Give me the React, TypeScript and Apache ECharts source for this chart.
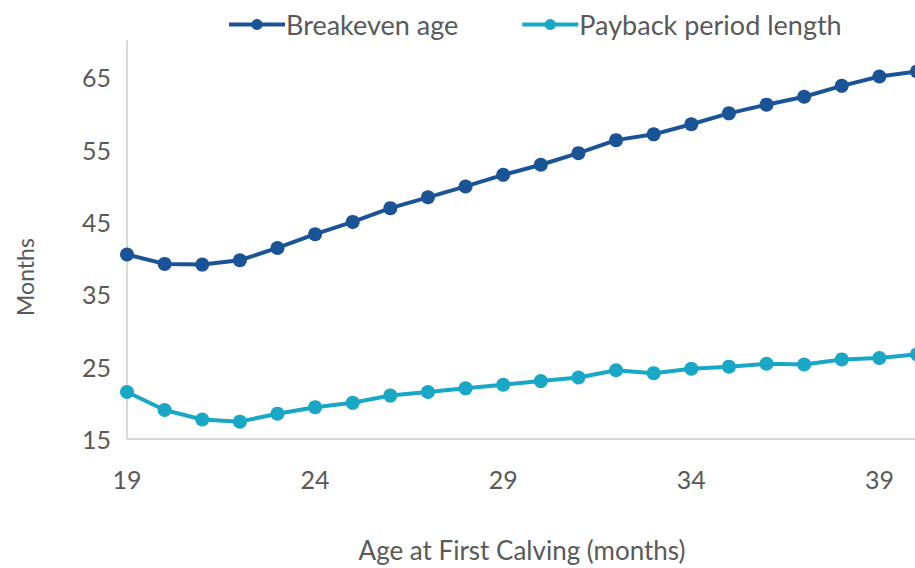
import React, { useEffect, useRef } from "react";
import * as echarts from "echarts";

const ages = ["19","20","21","22","23","24","25","26","27","28","29","30","31","32","33","34","35","36","37","38","39","40"];
const breakevenAge = [40.5, 39.2, 39.1, 39.7, 41.4, 43.3, 45.0, 46.9, 48.4, 49.9, 51.5, 52.9, 54.5, 56.3, 57.1, 58.5, 60.0, 61.2, 62.3, 63.8, 65.1, 65.8];
const paybackLength = [21.5, 19.0, 17.7, 17.4, 18.5, 19.4, 20.0, 21.0, 21.5, 22.0, 22.5, 23.0, 23.5, 24.5, 24.1, 24.7, 25.0, 25.4, 25.3, 26.0, 26.2, 26.7];
const seriesNames = ["Breakeven age", "Payback period length"];
const yTickLabels = [15, 25, 35, 45, 55, 65];
const yTitle = "Months";
const xTitle = "Age at First Calving (months)";

const FONT = "Lato";
const TEXT = "#595959";

export default function App() {
  const ref = useRef<HTMLDivElement>(null);
  useEffect(() => {
    if (!ref.current) return;
    const chart = echarts.init(ref.current, undefined, { renderer: "svg" });
    chart.setOption({
      animation: false,
      backgroundColor: "#ffffff",
      textStyle: { fontFamily: FONT },
      legend: {
        left: 222,
        top: 6,
        itemWidth: 56,
        itemHeight: 14,
        itemGap: 62,
        lineStyle: { width: 4 },
        textStyle: { fontFamily: FONT, fontSize: 27, color: TEXT, padding: [0, 0, 0, -4] },
        data: seriesNames,
      },
      graphic: [
        {
          type: "text",
          x: 25,
          y: 277,
          rotation: Math.PI / 2,
          style: {
            text: yTitle,
            fontFamily: FONT,
            fontSize: 23,
            fill: TEXT,
            align: "center",
            verticalAlign: "middle",
          },
        },
      ],
      grid: { left: 127, right: 5, top: 41, bottom: 117 },
      xAxis: {
        type: "category",
        data: ages,
        boundaryGap: false,
        name: xTitle,
        nameLocation: "middle",
        nameGap: 98,
        nameTextStyle: { fontFamily: FONT, fontSize: 26, color: TEXT },
        axisLine: { lineStyle: { color: "#d9d9d9", width: 2 } },
        axisTick: { show: false },
        axisLabel: { interval: 4, margin: 27, fontFamily: FONT, fontSize: 25, color: TEXT },
        splitLine: { show: false },
      },
      yAxis: {
        type: "value",
        min: 15,
        max: 70,
        interval: 5,
        axisLine: { show: true, lineStyle: { color: "#d9d9d9", width: 2 } },
        axisTick: { show: false },
        splitLine: { show: false },
        axisLabel: {
          margin: 16,
          fontFamily: FONT,
          fontSize: 25,
          color: TEXT,
          formatter: (v: number) => (yTickLabels.indexOf(Math.round(v)) >= 0 ? String(Math.round(v)) : ""),
        },
      },
      series: [
        {
          name: seriesNames[0],
          type: "line",
          data: breakevenAge,
          symbol: "circle",
          symbolSize: 14,
          lineStyle: { color: "#1b5496", width: 4 },
          itemStyle: { color: "#1b5496" },
        },
        {
          name: seriesNames[1],
          type: "line",
          data: paybackLength,
          symbol: "circle",
          symbolSize: 14,
          lineStyle: { color: "#19a7c6", width: 4 },
          itemStyle: { color: "#19a7c6" },
        },
      ],
    });
    return () => chart.dispose();
  }, []);
  return (
    <div style={{ position: "absolute", left: 0, top: 0, width: 915, height: 568, overflow: "hidden", background: "#fff" }}>
      <div ref={ref} style={{ width: 922, height: 568 }} />
    </div>
  );
}
